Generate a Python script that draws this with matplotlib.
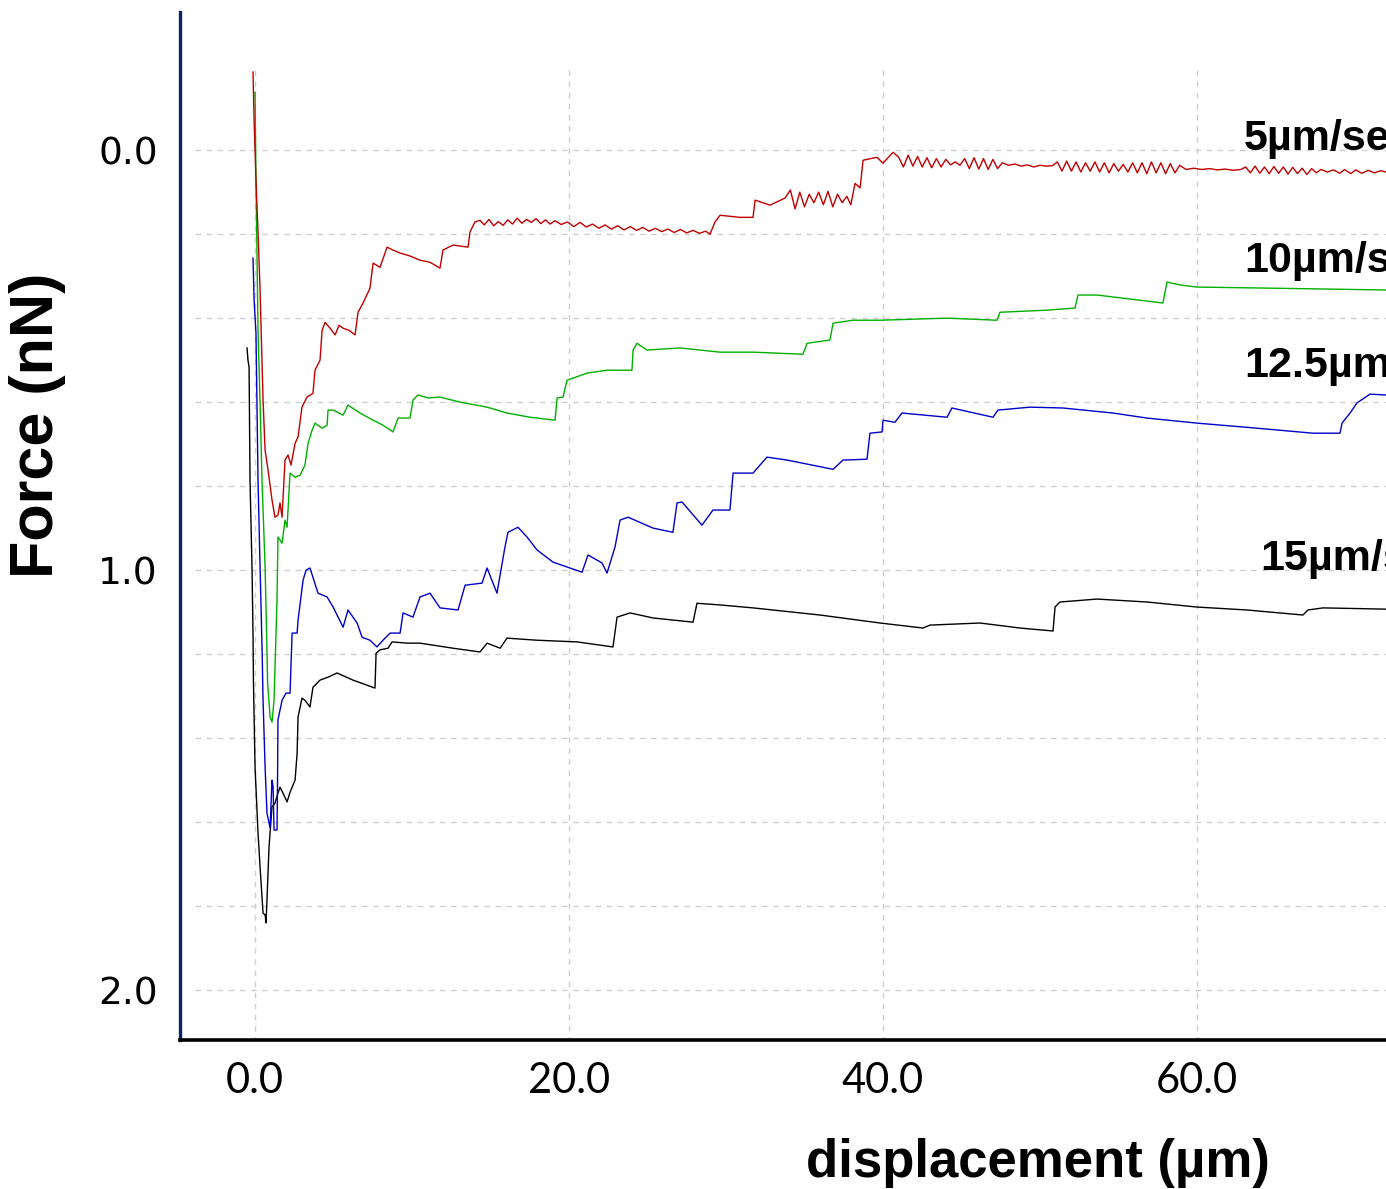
import matplotlib
matplotlib.use("Agg")
import matplotlib.pyplot as plt

# force vs displacement for four pulling speeds (y axis is inverted)

red_x = [-0.13, -0.06, 0.06, 0.19, 0.32, 0.51, 0.64, 0.83, 1.08, 1.27, 1.46, 1.59, 1.72, 1.91,
         2.10, 2.29, 2.55, 2.74, 2.99, 3.31, 3.69, 3.82, 4.14, 4.27, 4.46, 4.78, 5.10, 5.35,
         5.61, 5.99, 6.37, 6.56, 6.88, 7.32, 7.52, 7.96, 8.41, 8.79, 9.24, 9.87, 10.51, 11.15,
         11.78, 11.97, 12.61, 13.57, 13.69, 14.01, 14.33, 14.6, 14.9, 15.2, 15.5, 15.8, 16.1,
         16.4, 16.7, 17.0, 17.3, 17.6, 17.9, 18.2, 18.5, 18.8, 19.1, 19.5, 19.9, 20.3, 20.7,
         21.1, 21.5, 21.9, 22.3, 22.7, 23.1, 23.5, 23.9, 24.3, 24.7, 25.1, 25.5, 25.9, 26.3,
         26.7, 27.1, 27.5, 27.9, 28.3, 28.7, 28.98, 29.30, 29.62, 30.89, 31.72, 31.85,
         32.80, 33.76, 34.1, 34.4, 34.7, 35.0, 35.3, 35.6, 35.9, 36.2, 36.5, 36.8, 37.1, 37.4,
         37.7, 37.95, 38.22, 38.54, 38.73, 39.62, 40.0, 40.64, 41.0, 41.3, 41.6, 41.9, 42.2,
         42.5, 42.8, 43.1, 43.4, 43.7, 44.0, 44.3, 44.6, 44.9, 45.2, 45.5, 45.8, 46.1, 46.4,
         46.7, 47.0, 47.3, 47.6, 48.0, 48.4, 48.8, 49.2, 49.6, 50.0, 50.4, 50.8, 51.1, 51.4,
         51.7, 52.0, 52.3, 52.6, 52.9, 53.2, 53.5, 53.8, 54.1, 54.4, 54.7, 55.0, 55.3, 55.6,
         55.9, 56.2, 56.5, 56.8, 57.1, 57.4, 57.7, 58.0, 58.3, 58.6, 58.9, 59.3, 59.8, 60.3,
         60.8, 61.3, 61.8, 62.3, 62.8, 63.1, 63.4, 63.7, 64.0, 64.3, 64.6, 64.9, 65.2, 65.5,
         65.8, 66.1, 66.4, 66.7, 67.0, 67.3, 67.6, 67.9, 68.3, 68.7, 69.1, 69.4, 69.8, 70.1,
         70.5, 70.9, 71.3, 71.7, 72.04]
red_y = [-0.186, -0.071, 0.071, 0.195, 0.333, 0.595, 0.714, 0.762, 0.833, 0.874, 0.869, 0.840,
         0.874, 0.738, 0.726, 0.750, 0.698, 0.683, 0.612, 0.588, 0.579, 0.524, 0.500, 0.429,
         0.410, 0.424, 0.440, 0.417, 0.424, 0.429, 0.440, 0.386, 0.364, 0.329, 0.269, 0.279,
         0.231, 0.238, 0.245, 0.252, 0.262, 0.267, 0.281, 0.238, 0.226, 0.231, 0.195, 0.171,
         0.167, 0.178, 0.165, 0.180, 0.170, 0.179, 0.166, 0.176, 0.162, 0.174, 0.165, 0.172,
         0.163, 0.175, 0.166, 0.176, 0.168, 0.177, 0.171, 0.182, 0.172, 0.183, 0.176, 0.186,
         0.178, 0.188, 0.180, 0.190, 0.182, 0.191, 0.184, 0.193, 0.186, 0.194, 0.188, 0.196,
         0.189, 0.197, 0.191, 0.198, 0.193, 0.200,
         0.171, 0.155, 0.160, 0.160, 0.119, 0.131, 0.114, 0.095, 0.140, 0.100, 0.135,
         0.105, 0.125, 0.100, 0.130, 0.098, 0.135, 0.105, 0.125, 0.110, 0.130, 0.079, 0.090,
         0.024, 0.017, 0.031, 0.005, 0.017, 0.040, 0.012, 0.038, 0.015, 0.040, 0.018, 0.042,
         0.020, 0.040, 0.022, 0.035, 0.028, 0.036, 0.020, 0.044, 0.018, 0.045, 0.020, 0.046,
         0.022, 0.044, 0.030, 0.036, 0.033, 0.038, 0.035, 0.040, 0.036, 0.038, 0.037, 0.028,
         0.050, 0.026, 0.050, 0.028, 0.052, 0.030, 0.050, 0.028, 0.052, 0.030, 0.054, 0.032,
         0.050, 0.034, 0.052, 0.030, 0.054, 0.030, 0.056, 0.028, 0.054, 0.030, 0.056, 0.032,
         0.054, 0.036, 0.046, 0.043, 0.046, 0.044, 0.047, 0.045, 0.048, 0.046, 0.040, 0.054,
         0.038, 0.055, 0.040, 0.056, 0.039, 0.055, 0.040, 0.057, 0.041, 0.056, 0.043, 0.058,
         0.044, 0.054, 0.046, 0.052, 0.047, 0.055, 0.046, 0.056, 0.047, 0.055, 0.048, 0.054,
         0.049, 0.052]

green_x = [0.0, 0.06, 0.13, 0.19, 0.32, 0.45, 0.64, 0.76, 0.80, 0.96, 1.08, 1.21, 1.40, 1.46,
           1.72, 1.91, 2.04, 2.23, 2.55, 2.87, 3.18, 3.38, 3.63, 3.82, 4.27, 4.59, 4.65, 4.97,
           5.61, 5.92, 6.69, 7.52, 8.15, 8.79, 9.11, 9.87, 10.06, 10.38, 11.02, 11.78, 13.06,
           14.78, 16.05, 17.52, 19.11, 19.24, 19.62, 19.87, 21.15, 22.42, 24.01, 24.08, 24.33,
           24.97, 27.07, 29.62, 31.72, 34.90, 35.16, 36.62, 36.82, 38.09, 39.81, 44.08, 47.26,
           47.45, 50.45, 52.23, 52.42, 53.63, 57.83, 58.09, 58.92, 60.0, 65.29, 72.04]
green_y = [-0.138, 0.071, 0.262, 0.429, 0.602, 0.793, 0.993, 1.190, 1.269, 1.350, 1.362, 1.310,
           1.071, 0.921, 0.936, 0.881, 0.898, 0.769, 0.779, 0.774, 0.750, 0.698, 0.667, 0.650,
           0.662, 0.655, 0.619, 0.619, 0.631, 0.607, 0.626, 0.643, 0.655, 0.671, 0.638, 0.638,
           0.595, 0.583, 0.590, 0.588, 0.600, 0.612, 0.626, 0.636, 0.643, 0.590, 0.588, 0.548,
           0.531, 0.524, 0.524, 0.476, 0.460, 0.476, 0.471, 0.481, 0.481, 0.486, 0.460, 0.452,
           0.412, 0.405, 0.405, 0.400, 0.405, 0.386, 0.381, 0.376, 0.345, 0.345, 0.364, 0.314,
           0.321, 0.326, 0.329, 0.333]

blue_x = [-0.13, -0.06, 0.06, 0.19, 0.32, 0.45, 0.51, 0.64, 0.76, 0.96, 1.08, 1.15, 1.21, 1.40,
          1.43, 1.46, 1.72, 1.97, 2.23, 2.36, 2.68, 2.74, 3.06, 3.25, 3.50, 4.01, 4.59, 4.97,
          5.61, 5.92, 6.50, 6.82, 7.32, 7.77, 8.15, 8.60, 9.24, 9.43, 10.06, 10.51, 11.15,
          11.78, 12.93, 13.38, 14.46, 14.78, 15.41, 15.92, 16.11, 16.75, 17.32, 17.96, 18.98,
          20.06, 20.83, 21.21, 22.10, 22.42, 22.93, 23.25, 23.76, 25.35, 26.62, 26.88, 27.20,
          28.47, 29.17, 30.25, 30.45, 31.72, 32.61, 33.89, 36.82, 37.45, 38.98, 39.17, 39.94,
          40.0, 40.76, 41.21, 44.08, 44.39, 47.01, 47.32, 49.36, 51.46, 54.65, 56.82, 60.0,
          63.18, 67.39, 69.11, 69.24, 69.75, 70.19, 71.02, 72.04]
blue_y = [0.257, 0.357, 0.436, 0.786, 0.993, 1.190, 1.310, 1.469, 1.579, 1.614, 1.500, 1.517,
          1.619, 1.619, 1.517, 1.357, 1.310, 1.293, 1.293, 1.150, 1.150, 1.119, 1.024, 1.000,
          0.995, 1.055, 1.064, 1.088, 1.136, 1.095, 1.126, 1.160, 1.167, 1.183, 1.167, 1.150,
          1.150, 1.102, 1.112, 1.064, 1.055, 1.090, 1.095, 1.036, 1.031, 0.995, 1.055, 0.945,
          0.910, 0.898, 0.921, 0.952, 0.981, 0.995, 1.005, 0.964, 0.983, 1.007, 0.945, 0.881,
          0.874, 0.900, 0.910, 0.840, 0.838, 0.893, 0.857, 0.857, 0.769, 0.769, 0.731, 0.738,
          0.760, 0.738, 0.736, 0.674, 0.671, 0.643, 0.648, 0.626, 0.636, 0.614, 0.636, 0.619,
          0.612, 0.614, 0.626, 0.638, 0.650, 0.660, 0.674, 0.674, 0.650, 0.626, 0.602, 0.581,
          0.583]

black_x = [-0.51, -0.45, -0.38, -0.32, -0.19, -0.13, -0.10, 0.0, 0.19, 0.32, 0.51, 0.64, 0.70,
           0.76, 0.89, 1.08, 1.27, 1.46, 1.59, 1.78, 2.04, 2.23, 2.55, 2.68, 2.74, 2.99, 3.18,
           3.50, 3.69, 4.14, 4.65, 5.22, 6.24, 7.13, 7.64, 7.71, 7.96, 8.47, 8.73, 9.68, 10.51,
           12.61, 14.33, 14.78, 15.61, 16.05, 17.96, 20.51, 22.80, 23.06, 23.89, 25.35, 27.90,
           28.15, 29.62, 31.72, 35.99, 39.81, 42.55, 42.99, 46.18, 48.73, 50.83, 50.96, 51.27,
           53.63, 56.82, 60.0, 63.18, 66.75, 67.07, 68.03, 72.04]
black_y = [0.471, 0.500, 0.517, 0.786, 1.000, 1.150, 1.269, 1.469, 1.626, 1.707, 1.817, 1.821,
           1.840, 1.786, 1.660, 1.564, 1.555, 1.531, 1.517, 1.531, 1.552, 1.529, 1.500, 1.436,
           1.350, 1.305, 1.310, 1.326, 1.279, 1.262, 1.255, 1.245, 1.262, 1.274, 1.281, 1.198,
           1.190, 1.186, 1.171, 1.174, 1.174, 1.186, 1.195, 1.174, 1.186, 1.162, 1.167, 1.171,
           1.183, 1.112, 1.102, 1.114, 1.124, 1.079, 1.083, 1.090, 1.107, 1.126, 1.138, 1.131,
           1.126, 1.138, 1.145, 1.088, 1.076, 1.069, 1.076, 1.088, 1.095, 1.107, 1.095, 1.090,
           1.093]

# the labels run past the right edge of the figure, as in the source image
labels = ["5µm/sec", "10µm/sec", "12.5µm/sec", "15µm/sec"]
label_x = [63.0, 63.0, 63.0, 64.0]
label_y = [0.0, 0.290, 0.540, 1.0]
colors = ["#c00000", "#00b000", "#0000c8", "#000000"]

xticks = [0, 20, 40, 60]
xticklabels = ["0.0", "20.0", "40.0", "60.0"]
yticks = [0, 1, 2]
yticklabels = ["0.0", "1.0", "2.0"]
grid_y = [0.0, 0.2, 0.4, 0.6, 0.8, 1.0, 1.2, 1.4, 1.6, 1.8, 2.0]

fig = plt.figure(figsize=(13.86, 11.89), dpi=100)
ax = fig.add_axes([180 / 1386, 1 - 1040 / 1189, 1 - 180 / 1386, (1040 - 12) / 1189])

ax.set_xlim(-4.78, 72.04)
ax.set_ylim(2.119, -0.329)

# dashed grid that does not reach the axis lines
ax.hlines(grid_y, -3.8, 72.04, colors="#cfcfcf", linestyles=(0, (4, 4)), lw=1.0, zorder=0)
ax.vlines(xticks, -0.19, 2.119, colors="#cfcfcf", linestyles=(0, (4, 4)), lw=1.0, zorder=0)

series = [(black_x, black_y), (blue_x, blue_y), (green_x, green_y), (red_x, red_y)]
for (xs, ys), c in zip(series, colors[::-1]):
    ax.plot(xs, ys, color=c, lw=1.0)

for t, tx, ty in zip(labels, label_x, label_y):
    ax.text(tx, ty, t, fontsize=31, fontweight="bold", family="Liberation Sans",
            ha="left", va="baseline", clip_on=False)

ax.set_xticks(xticks)
ax.set_xticklabels(xticklabels, family="Lato", fontsize=30)
ax.set_yticks(yticks)
ax.set_yticklabels(yticklabels, family="DejaVu Sans", fontsize=27)
ax.tick_params(axis="both", length=0)
ax.tick_params(axis="x", pad=16)
ax.tick_params(axis="y", pad=16)

for s in ["top", "right"]:
    ax.spines[s].set_visible(False)
ax.spines["left"].set_color("#0c2466")
ax.spines["left"].set_linewidth(2.4)
ax.spines["bottom"].set_color("black")
ax.spines["bottom"].set_linewidth(2.6)

fig.text(1038 / 1386, 1 - 1177 / 1189, "displacement (µm)", fontsize=38, fontweight="bold",
         family="Liberation Sans", ha="center", va="baseline")
fig.text(38 / 1386, 1 - 425 / 1189, "Force (nN)", fontsize=44, fontweight="bold",
         family="Liberation Sans", ha="center", va="center", rotation=90)

fig.savefig("out.png", dpi=100)
